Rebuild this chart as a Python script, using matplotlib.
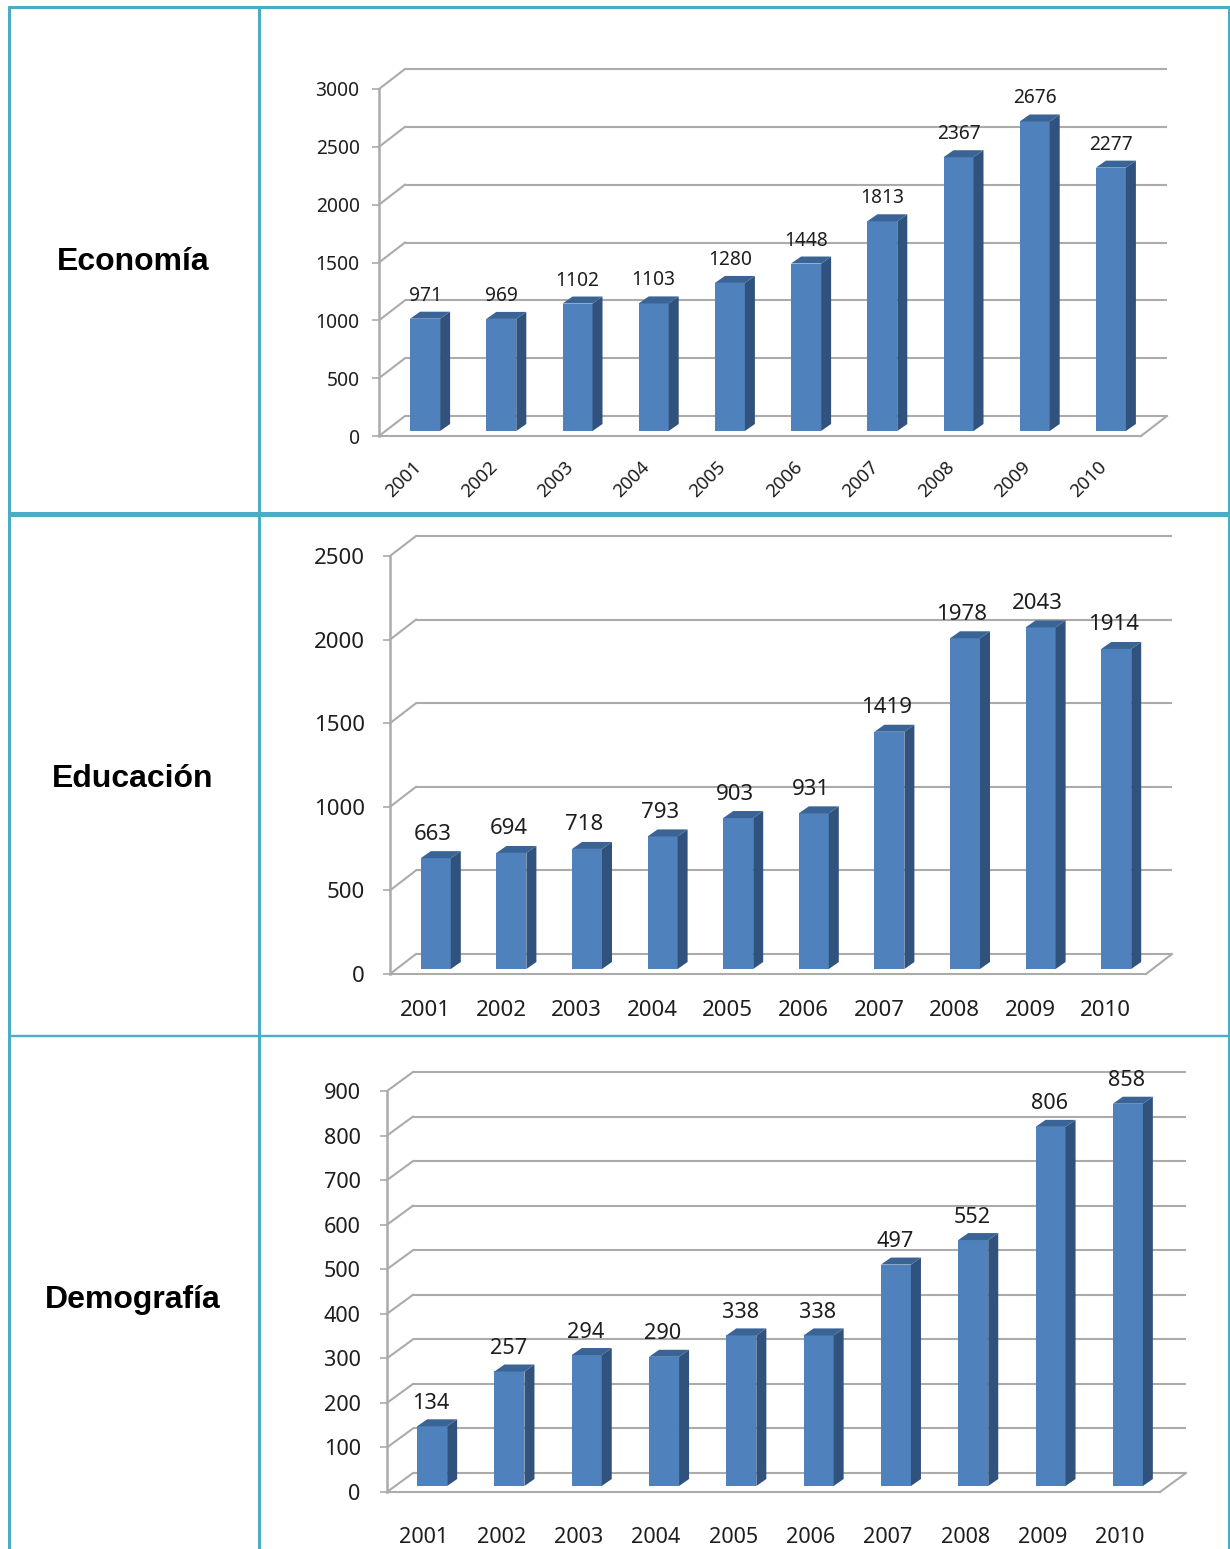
import matplotlib
matplotlib.use("Agg")
import matplotlib.pyplot as plt
from matplotlib.lines import Line2D
from matplotlib.patches import Polygon
from matplotlib.transforms import Affine2D, IdentityTransform

W, H = 1230, 1549
years = ['2001', '2002', '2003', '2004', '2005', '2006', '2007', '2008', '2009', '2010']
economia = [971, 969, 1102, 1103, 1280, 1448, 1813, 2367, 2676, 2277]
educacion = [663, 694, 718, 793, 903, 931, 1419, 1978, 2043, 1914]
demografia = [134, 257, 294, 290, 338, 338, 497, 552, 806, 858]
row_titles = ['Economía', 'Educación', 'Demografía']
ticks_eco = [0, 500, 1000, 1500, 2000, 2500, 3000]
ticks_edu = [0, 500, 1000, 1500, 2000, 2500]
ticks_dem = [0, 100, 200, 300, 400, 500, 600, 700, 800, 900]

FRONT, SIDE, TOP = '#4F81BD', '#30527C', '#3B6496'
GRID = '#ABABAB'
TEAL = '#4BACC6'
TXT = '#1E1E1E'
FONT = 'Noto Sans'

fig = plt.figure(figsize=(W / 100, H / 100), dpi=100, facecolor='white')


def chart(vals, ticks, left, right, top, bottom, depth, bar_off, fs, rot, ypad, xpad, lab_dx, lab_dy, tick_dx, width_px=30):
    ax = fig.add_axes([left / W, 1 - bottom / H, (right - left) / W, (bottom - top) / H])
    ax.patch.set_alpha(0)
    ax.set_xlim(-0.5, 9.5)
    ax.set_ylim(ticks[0], ticks[-1])
    for s in ('top', 'right', 'bottom'):
        ax.spines[s].set_visible(False)
    ax.spines['left'].set_color(GRID)
    ax.spines['left'].set_linewidth(1.8)
    ax.set_yticks(ticks, [str(t) for t in ticks], fontsize=fs, color=TXT, family=FONT)
    ax.tick_params(axis='y', length=5, width=1.2, color=GRID, pad=ypad)
    if rot:
        ax.set_xticks(range(10), years, fontsize=fs - 0.3, color=TXT, family=FONT,
                      rotation=rot, ha='right', va='top', rotation_mode='anchor')
    else:
        ax.set_xticks(range(10), years, fontsize=fs, color=TXT, family=FONT)
    ax.tick_params(axis='x', length=0, pad=xpad)
    for lab in ax.get_xticklabels():
        lab.set_transform(lab.get_transform() + Affine2D().translate(tick_dx, 0))

    dx, dy = depth
    back = ax.transData + Affine2D().translate(dx, dy)
    disp = ax.transData.transform
    idt = IdentityTransform()
    for t in ticks:
        ax.plot([-0.5, 9.5], [t, t], transform=back, color=GRID, lw=1.5, clip_on=False, zorder=1,
                solid_capstyle='butt')
        x0, y0 = disp((-0.5, t))
        ax.add_line(Line2D([x0, x0 + dx], [y0, y0 + dy], transform=idt, color=GRID, lw=1.5, zorder=1,
                           clip_on=False))
    ax.plot([-0.5, 9.5], [ticks[0], ticks[0]], color=GRID, lw=1.5, clip_on=False, zorder=1)
    xr, yr = disp((9.5, ticks[0]))
    ax.add_line(Line2D([xr, xr + dx], [yr, yr + dy], transform=idt, color=GRID, lw=1.5, zorder=1, clip_on=False))

    bx, by = bar_off
    bw = width_px / ((right - left) / 10)
    shifted = ax.transData + Affine2D().translate(bx, by)
    sx, sy = 10, 7
    for i, v in enumerate(vals):
        ax.bar(i, v, width=bw, color=FRONT, transform=shifted, clip_on=False, zorder=3)
        xl, yb = shifted.transform((i - bw / 2, 0))
        xh, yt = shifted.transform((i + bw / 2, v))
        ax.add_patch(Polygon([(xh, yb), (xh + sx, yb + sy), (xh + sx, yt + sy), (xh, yt)],
                             transform=idt, fc=SIDE, ec='none', clip_on=False, zorder=3))
        ax.add_patch(Polygon([(xl, yt), (xl + sx, yt + sy), (xh + sx, yt + sy), (xh, yt)],
                             transform=idt, fc=TOP, ec='none', clip_on=False, zorder=3))
        ax.annotate(str(v), (i, v), xycoords=shifted, xytext=(lab_dx * 0.72, lab_dy * 0.72),
                    textcoords='offset points', ha='center', va='center', fontsize=fs, color=TXT,
                    family=FONT, zorder=4, annotation_clip=False)
    return ax


chart(economia, ticks_eco, 379, 1141, 89, 436, (26, 20), (8, 5), 13.8, 45, 9, 16, 0, 23, -5)
chart(educacion, ticks_edu, 390, 1146, 556, 974, (26, 20), (8, 5), 16, 0, 13, 19, -3, 24, -2.5)
chart(demografia, ticks_dem, 387, 1160, 1091, 1492, (26, 19), (6.5, 6), 15.6, 0, 14, 25, -1, 23, -1.5)

# table grid
overlay = fig.add_axes([0, 0, 1, 1], zorder=10)
overlay.set_xlim(0, W)
overlay.set_ylim(H, 0)
overlay.axis('off')
overlay.patch.set_alpha(0)
for x, lw in ((9, 3), (258.5, 3), (1228.5, 3)):
    overlay.plot([x, x], [5.5, H], color=TEAL, lw=lw * 0.72, solid_capstyle='butt')
for y, lw in ((7, 3), (513.5, 5), (1036, 2.4)):
    overlay.plot([7.5, W], [y, y], color=TEAL, lw=lw * 0.72, solid_capstyle='butt')
for title, y in zip(row_titles, (262, 779, 1300)):
    overlay.text(133, y, title, ha='center', va='center', fontsize=23, fontweight='bold',
                 family='Liberation Sans', color='black')

fig.savefig('out.png', dpi=100, facecolor='white')
